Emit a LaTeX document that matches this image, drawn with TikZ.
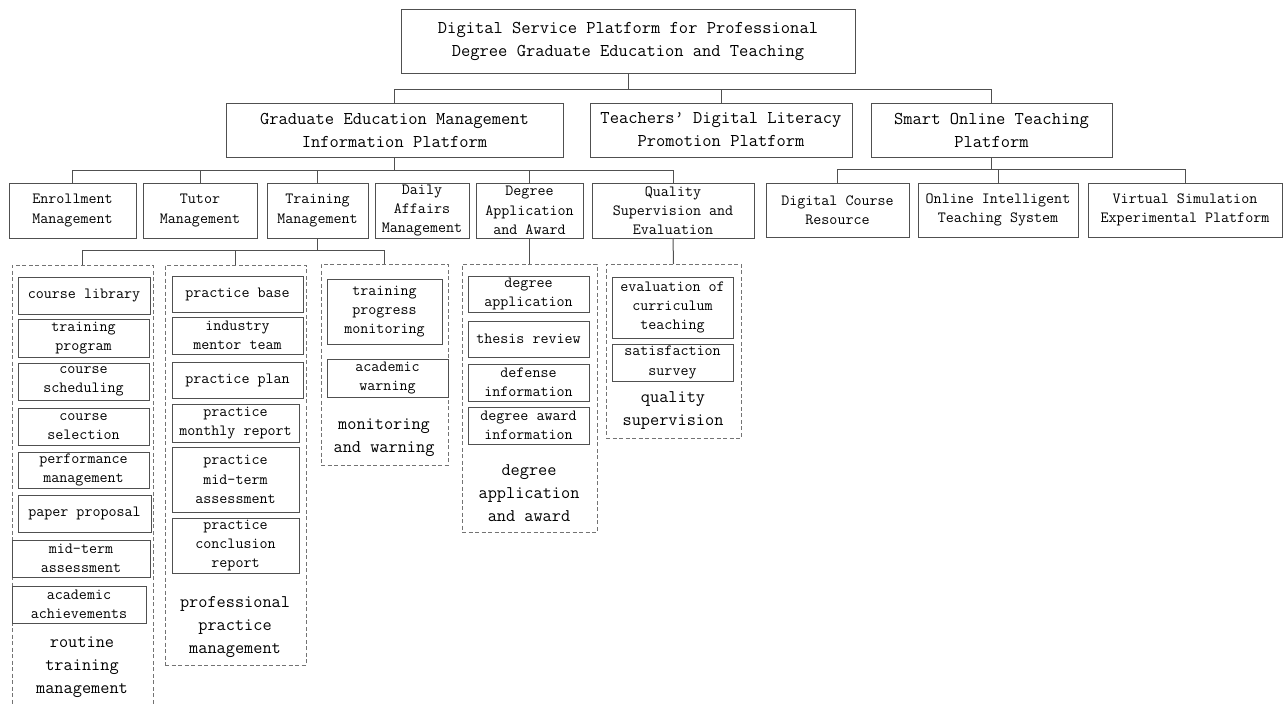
\documentclass[tikz,border=0pt]{standalone}
\usepackage{tikz}
\definecolor{bcol}{HTML}{505050}
\definecolor{tcol}{HTML}{000000}
\newcommand\fA{\ttfamily\fontsize{18}{23}\selectfont}
\newcommand\fB{\ttfamily\fontsize{15.6}{19.3}\selectfont}
\newcommand\fC{\ttfamily\fontsize{17.8}{23}\selectfont}
\newcommand{\bx}[7]{\pgfmathsetmacro\mybw{#4-#2}\pgfmathsetmacro\mybh{#5-#3}%
  \node[#1, minimum width=\mybw pt, minimum height=\mybh pt] (#6) at ({(#2+#4)/2},{(#3+#5)/2}) {#7};}
\tikzset{
  base/.style={draw=bcol, line width=1pt, rectangle, inner sep=0pt, outer sep=0pt, align=center, text=tcol},
  lvlone/.style={base, font=\fA},
  lvltwo/.style={base, font=\fB},
  inbox/.style={base, font=\fB},
  grp/.style={draw=bcol!80, line width=0.9pt, dash pattern=on 4pt off 2.5pt, rectangle, inner sep=0pt, outer sep=0pt},
  grplabel/.style={font=\fC, align=center, text=tcol, inner sep=0pt},
  conn/.style={draw=bcol, line width=1pt}
}
\begin{document}
\begin{tikzpicture}[x=1pt,y=-1pt]
\useasboundingbox (0,0) rectangle (1285,704);
% level 1 and 2
\bx{lvlone}{401}{9}{855}{73}{top}{Digital Service Platform for Professional\\Degree Graduate Education and Teaching}
\bx{lvlone}{226}{103}{563}{157}{grad}{Graduate Education Management\\Information Platform}
\bx{lvlone}{590}{103}{852}{157}{teach}{Teachers’ Digital Literacy\\Promotion Platform}
\bx{lvlone}{871}{103}{1112}{157}{smart}{Smart Online Teaching\\Platform}
% level 3
\bx{lvltwo}{9}{183}{136}{238}{enr}{Enrollment\\Management}
\bx{lvltwo}{143}{183}{257}{238}{tut}{Tutor\\Management}
\bx{lvltwo}{267}{183}{368}{238}{trn}{Training\\Management}
\bx{lvltwo}{375}{183}{469}{238}{dly}{Daily\\Affairs\\Management}
\bx{lvltwo}{476}{183}{583}{238}{deg}{Degree\\Application\\and Award}
\bx{lvltwo}{592}{183}{754}{238}{qual}{Quality\\Supervision and\\Evaluation}
\bx{lvltwo}{766}{183}{909}{237}{dcr}{Digital Course\\Resource}
\bx{lvltwo}{918}{183}{1078}{237}{oits}{Online Intelligent\\Teaching System}
\bx{lvltwo}{1088}{183}{1282}{237}{vsp}{Virtual Simulation\\Experimental Platform}
% groups
\bx{grp}{12}{265}{153}{712}{g1}{}
\bx{grp}{165}{265}{306}{665}{g2}{}
\bx{grp}{321}{264}{448}{465}{g3}{}
\bx{grp}{462}{264}{597}{532}{g4}{}
\bx{grp}{606}{264}{741}{438}{g5}{}
% group 1
\bx{inbox}{18}{277}{150}{314}{a1}{course library}
\bx{inbox}{18}{319}{149}{357}{a2}{training\\program}
\bx{inbox}{18}{363}{149}{400}{a3}{course\\scheduling}
\bx{inbox}{18}{408}{149}{445}{a4}{course\\selection}
\bx{inbox}{18}{452}{149}{488}{a5}{performance\\management}
\bx{inbox}{18}{495}{151}{532}{a6}{paper proposal}
\bx{inbox}{12}{540}{150}{577}{a7}{mid-term\\assessment}
\bx{inbox}{12}{586}{146}{623}{a8}{academic\\achievements}
\node[grplabel] (l1) at (82,667) {routine\\training\\management};
% group 2
\bx{inbox}{172}{276}{303}{312}{b1}{practice base}
\bx{inbox}{172}{317}{303}{354}{b2}{industry\\mentor team}
\bx{inbox}{172}{362}{303}{398}{b3}{practice plan}
\bx{inbox}{172}{404}{299}{442}{b4}{practice\\monthly report}
\bx{inbox}{172}{447}{299}{512}{b5}{practice\\mid-term\\assessment}
\bx{inbox}{172}{518}{299}{573}{b6}{practice\\conclusion\\report}
\node[grplabel] (l2) at (235,627) {professional\\practice\\management};
% group 3
\bx{inbox}{327}{279}{442}{344}{c1}{training\\progress\\monitoring}
\bx{inbox}{327}{359}{448}{397}{c2}{academic\\warning}
\node[grplabel] (l3) at (384,438) {monitoring\\and warning};
% group 4
\bx{inbox}{468}{276}{589}{312}{d1}{degree\\application}
\bx{inbox}{468}{321}{589}{357}{d2}{thesis review}
\bx{inbox}{468}{364}{589}{401}{d3}{defense\\information}
\bx{inbox}{468}{407}{589}{444}{d4}{degree award\\information}
\node[grplabel] (l4) at (529,493) {degree\\application\\and award};
% group 5
\bx{inbox}{612}{277}{733}{338}{e1}{evaluation of\\curriculum\\teaching}
\bx{inbox}{612}{344}{733}{381}{e2}{satisfaction\\survey}
\node[grplabel] (l5) at (673,411) {quality\\supervision};
% connectors
\draw[conn] (top.south) -- ++(0,16);
\draw[conn] (grad.north) -- ++(0,-14) -| (smart.north);
\draw[conn] (teach.north) -- ++(0,-14);
\draw[conn] (grad.south) -- ++(0,13);
\draw[conn] (enr.north) -- ++(0,-13) -| (qual.north);
\draw[conn] (tut.north) -- ++(0,-13);
\draw[conn] (trn.north) -- ++(0,-13);
\draw[conn] (deg.north) -- ++(0,-13);
\draw[conn] (smart.south) -- ++(0,12);
\draw[conn] (dcr.north) -- ++(0,-14) -| (vsp.north);
\draw[conn] (oits.north) -- ++(0,-14);
\draw[conn] (trn.south) -- ++(0,12);
\draw[conn] (g1.north) -- ++(0,-15) -| (g3.north);
\draw[conn] (g2.north) -- ++(0,-15);
\draw[conn] (deg.south) -- (g4.north);
\draw[conn] (qual.south) -- (g5.north);
\end{tikzpicture}
\end{document}
